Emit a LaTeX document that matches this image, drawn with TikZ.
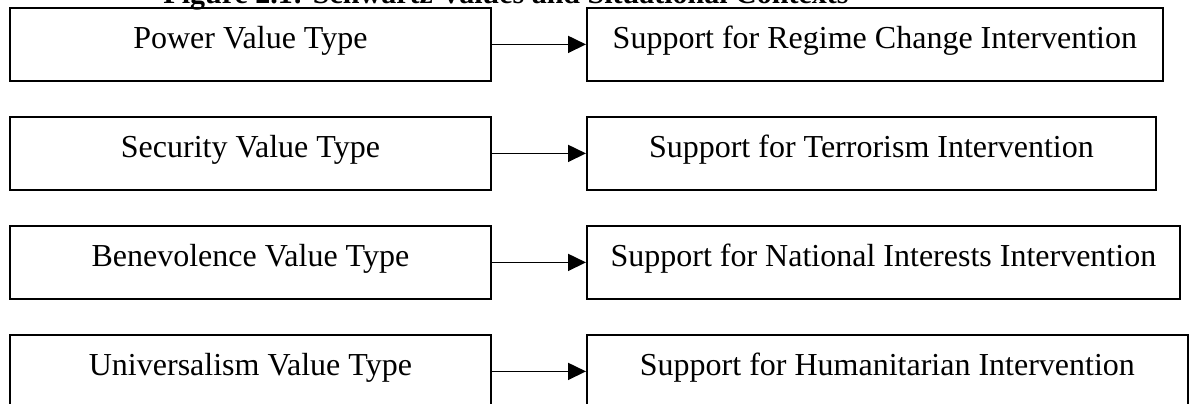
\documentclass[tikz,border=0pt]{standalone}
\usepackage{fontspec}
\setmainfont{Liberation Serif}
\usetikzlibrary{arrows.meta}
\tikzset{
  boxnode/.style={draw=black, line width=1.8pt, anchor=north west, inner sep=0pt,
    text height=41pt, text depth=32pt, align=center,
    font=\fontsize{32}{38}\selectfont},
  conn/.style={line width=1.7pt, -{Triangle[length=18pt,width=17pt]}},
  titlenode/.style={anchor=base, inner sep=0pt, font=\bfseries\fontsize{30}{36}\selectfont}
}
\begin{document}
\begin{tikzpicture}[x=1pt,y=-1pt]
\useasboundingbox (0,0) rectangle (1196,404);
\fill[white] (0,0) rectangle (1196,404);
\clip (0,0) rectangle (1196,404);
\node[titlenode] (title) at (506,4) {Figure 2.1: Schwartz Values and Situational Contexts};
\node[boxnode, minimum width=481pt] (L1) at (9,7) {Power Value Type};
\node[boxnode, minimum width=481pt] (L2) at (9,116) {Security Value Type};
\node[boxnode, minimum width=481pt] (L3) at (9,225) {Benevolence Value Type};
\node[boxnode, minimum width=481pt] (L4) at (9,334) {Universalism Value Type};
\node[boxnode, minimum width=576pt] (R1) at (586,7) {Support for Regime Change Intervention};
\node[boxnode, minimum width=569pt] (R2) at (586,116) {Support for Terrorism Intervention};
\node[boxnode, minimum width=593pt] (R3) at (586,225) {Support for National Interests Intervention};
\node[boxnode, minimum width=601pt] (R4) at (586,334) {Support for Humanitarian Intervention};
\draw[conn] (L1.east) -- (R1.west);
\draw[conn] (L2.east) -- (R2.west);
\draw[conn] (L3.east) -- (R3.west);
\draw[conn] (L4.east) -- (R4.west);
\end{tikzpicture}
\end{document}
